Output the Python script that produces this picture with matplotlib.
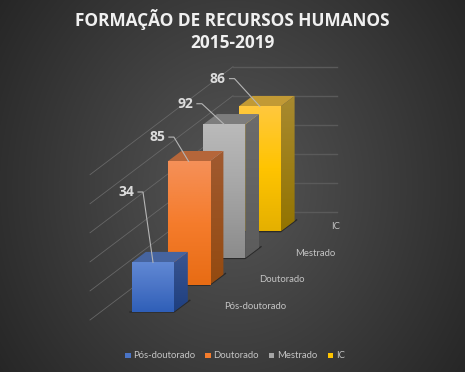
import numpy as np
import matplotlib
matplotlib.use('Agg')
import matplotlib.pyplot as plt
from matplotlib.patches import Polygon, Rectangle
from matplotlib.colors import LinearSegmentedColormap

categories = ["Pós-doutorado", "Doutorado", "Mestrado", "IC"]
values = [34, 85, 92, 86]
grid_values = [0, 20, 40, 60, 80, 100]
title = "FORMAÇÃO DE RECURSOS HUMANOS\n2015-2019"

# colours: front face top/middle/bottom, top face, side face top/bottom
front_cols = [["#6088d4", "#4a74c6", "#2f5fb8"],
              ["#f59058", "#f57c2c", "#e86c14"],
              ["#bababa", "#a5a5a5", "#8c8c8c"],
              ["#ffc83d", "#ffc400", "#e5b000"]]
top_cols = ["#46649f", "#b5663a", "#7d7d7d", "#c29a35"]
side_cols = [["#3a5590", "#1e3f80"],
             ["#a05a30", "#944a10"],
             ["#6c6c6c", "#5c5c5c"],
             ["#a88a30", "#937400"]]
# leader line elbow, relative to the top of each bar
leader_dx = [-10.0, -14.7, -22.3, -25.3]
leader_dy = [-70.3, -24.3, -20.7, -27.7]

# oblique projection, in pixels of the 465x372 picture
x0, y0 = 132.0, 311.7
bar_w = 42.0
step_x, step_y = 35.6, -26.8
depth_x, depth_y = 13.8, -10.4
scale = 1.453
wall_x, wall_y = 233.0, 212.0
wall_slope = 0.755


def project(cat, val, d=0.0, across=0.0):
    # cat = category position, val = value, d = 0..1 over bar depth
    x = x0 + cat * step_x + across * bar_w + d * depth_x
    y = y0 + cat * step_y + d * depth_y - val * scale
    return x, y


plt.rcParams['font.family'] = ['Lato', 'DejaVu Sans']
fig = plt.figure(figsize=(4.65, 3.72), dpi=100)
ax = fig.add_axes([0, 0, 1, 1])
ax.axis('off')

# background
yy, xx = np.mgrid[0:372, 0:465]
rr = np.sqrt(((xx - 232) / 260.0) ** 2 + ((yy - 186) / 300.0) ** 2)
bg = LinearSegmentedColormap.from_list('bg', ["#565656", "#262626"])
ax.imshow(rr, extent=(0, 465, 372, 0), cmap=bg, vmin=0, vmax=1.1, aspect='auto', zorder=0)

# wall lines
for g in grid_values:
    by = wall_y - g * scale
    ax.plot([wall_x - 143, wall_x], [by + 143 * wall_slope, by], color="#676767", lw=0.6, zorder=1)
    ax.plot([wall_x, 337], [by, by], color="#5a5a5a", lw=1.0, zorder=1)

# bars, back to front
grad = np.linspace(0, 1, 64).reshape(-1, 1)
for i in range(len(values) - 1, -1, -1):
    v = values[i]
    z = 10 - i
    fx0, fy0 = project(i, v)
    fx1, fy1 = project(i, 0, 0.0, 1.0)
    side = [project(i, 0, 0, 1), project(i, v, 0, 1), project(i, v, 1, 1), project(i, 0, 1, 1)]
    top = [project(i, v, 0, 0), project(i, v, 0, 1), project(i, v, 1, 1), project(i, v, 1, 0)]

    # floor shadow
    sx, sy = project(i, 0, 1, 1)
    ax.plot([fx0 - 2, fx1, sx + 2], [fy1 + 0.3, fy1 + 0.3, sy - 1], color="#2a2a2a", lw=1, zorder=z - 0.5)

    cm_side = LinearSegmentedColormap.from_list('s%d' % i, side_cols[i])
    im = ax.imshow(grad, extent=(fx1, sx, fy1, fy0 + depth_y), cmap=cm_side, aspect='auto', zorder=z)
    sp = Polygon(side, closed=True, fc='none', ec='none', transform=ax.transData)
    ax.add_patch(sp)
    im.set_clip_path(sp)
    ax.add_patch(Polygon(top, closed=True, fc=top_cols[i], ec='none', zorder=z))
    cm = LinearSegmentedColormap.from_list('f%d' % i, front_cols[i])
    ax.imshow(grad, extent=(fx0, fx1, fy1, fy0), cmap=cm, aspect='auto', zorder=z)

ax.set_xlim(0, 465)
ax.set_ylim(372, 0)

# data labels with leader lines
for i, v in enumerate(values):
    cx, cy = project(i, v, 0.0, 0.5)
    ex, ey = cx + leader_dx[i], cy + leader_dy[i]
    ax.plot([cx, ex, ex - 5], [cy, ey, ey], color="#b5b5b5", lw=0.8, zorder=20)
    ax.text(ex - 9, ey, str(v), color="#dcdcdc", fontsize=10, fontweight='bold', family='Open Sans',
            ha='right', va='center', zorder=21)

# category labels
for i, c in enumerate(categories):
    bx, by = project(i, 0)
    ax.text(bx + 92, by - 5, c, color="#c4c4c4", fontsize=6.8, ha='left', va='center', zorder=5)

ax.text(232, 30.5, title, color="#f0f0f0", fontsize=12.4, fontweight='bold', family='Open Sans',
        ha='center', va='center', linespacing=1.25, zorder=30)

# legend
legend_x = [125, 205.3, 268.7, 327.7]
for c, lx, col in zip(categories, legend_x, front_cols):
    ax.add_patch(Rectangle((lx, 352.7), 5.6, 5.6, fc=col[1], ec='none', zorder=30))
    ax.text(lx + 8.2, 355.6, c, color="#c4c4c4", fontsize=6.8, va='center', zorder=30)

fig.savefig('out.png', dpi=100)
